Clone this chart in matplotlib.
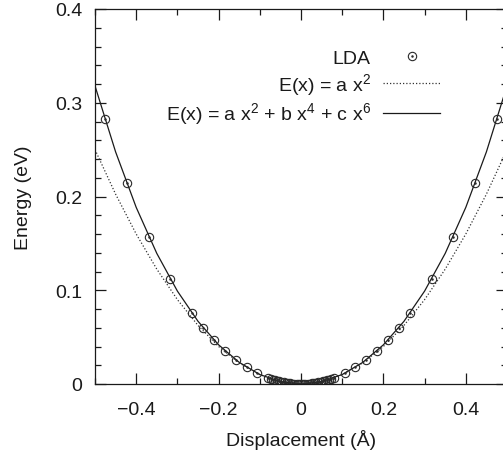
import matplotlib
matplotlib.use('Agg')
import matplotlib.pyplot as plt
from matplotlib.legend_handler import HandlerTuple
from matplotlib.ticker import MultipleLocator, FixedLocator, FixedFormatter

plt.rcParams['font.family'] = ['Liberation Sans', 'DejaVu Sans']
plt.rcParams['mathtext.fontset'] = 'custom'
plt.rcParams['mathtext.rm'] = 'Liberation Sans'
plt.rcParams['mathtext.it'] = 'Liberation Sans:italic'
plt.rcParams['mathtext.bf'] = 'Liberation Sans:bold'

# LDA data points
lda_x = [-0.4757, -0.4229, -0.3700, -0.3172, -0.2643, -0.2379, -0.2114, -0.1850,
         -0.1586, -0.1322, -0.1057,
         -0.0793, -0.0740, -0.0687, -0.0634, -0.0581, -0.0529, -0.0476, -0.0423,
         -0.0370, -0.0317, -0.0264, -0.0211, -0.0159, -0.0106, -0.0053, 0.0,
         0.0053, 0.0106, 0.0159, 0.0211, 0.0264, 0.0317, 0.0370, 0.0423, 0.0476,
         0.0529, 0.0581, 0.0634, 0.0687, 0.0740, 0.0793,
         0.1057, 0.1322, 0.1586, 0.1850, 0.2114, 0.2379, 0.2643, 0.3172, 0.3700,
         0.4229, 0.4757]
lda_y = [0.2827, 0.2144, 0.1572, 0.1118, 0.0754, 0.0600, 0.0465, 0.0352,
         0.0257, 0.0179, 0.0113,
         0.00633, 0.00551, 0.00475, 0.00404, 0.00339, 0.00280, 0.00227, 0.00179,
         0.00137, 0.00101, 0.00070, 0.00045, 0.00025, 0.00011, 0.00003, 0.0,
         0.00003, 0.00011, 0.00025, 0.00045, 0.00070, 0.00101, 0.00137, 0.00179,
         0.00227, 0.00280, 0.00339, 0.00404, 0.00475, 0.00551, 0.00633,
         0.0113, 0.0179, 0.0257, 0.0352, 0.0465, 0.0600, 0.0754, 0.1118, 0.1572,
         0.2144, 0.2827]

# fitted curves, values
curve_x = [-0.50, -0.45, -0.40, -0.35, -0.30, -0.25, -0.20, -0.15, -0.10, -0.05, 0.0,
           0.05, 0.10, 0.15, 0.20, 0.25, 0.30, 0.35, 0.40, 0.45, 0.50]
harm_y = [0.2500, 0.2025, 0.1600, 0.1225, 0.0900, 0.0625, 0.0400, 0.0225, 0.0100, 0.0025, 0.0,
          0.0025, 0.0100, 0.0225, 0.0400, 0.0625, 0.0900, 0.1225, 0.1600, 0.2025, 0.2500]
anh_y = [0.3180, 0.2476, 0.1884, 0.1393, 0.0991, 0.0669, 0.0418, 0.0231, 0.0101, 0.0025, 0.0,
         0.0025, 0.0101, 0.0231, 0.0418, 0.0669, 0.0991, 0.1393, 0.1884, 0.2476, 0.3180]

xticks = [-0.4, -0.2, 0.0, 0.2, 0.4]
xticklabels = ['\u22120.4', '\u22120.2', '0', '0.2', '0.4']
yticks = [0.0, 0.1, 0.2, 0.3, 0.4]
yticklabels = ['0', '0.1', '0.2', '0.3', '0.4']
labels = ['LDA', 'E(x) = a x$^2$', 'E(x) = a x$^2$ + b x$^4$ + c x$^6$']

ink = '#1a1a1a'
W, H = 503, 456
fig = plt.figure(figsize=(W / 100, H / 100), dpi=100)
ax = fig.add_axes([95 / W, 1 - 385 / H, 412 / W, 375 / H])

l_harm, = ax.plot(curve_x, harm_y, color='#333333', lw=0.9, ls=(0, (1.0, 1.6)))
l_anh, = ax.plot(curve_x, anh_y, color=ink, lw=0.9)
p_circ, = ax.plot(lda_x, lda_y, ls='none', marker='o', ms=6, mfc='none',
                  mec='#2a2a2a', mew=0.8)
p_dot, = ax.plot(lda_x, lda_y, ls='none', marker='.', ms=1.6, color='#2a2a2a')

ax.set_xlim(-0.5, 0.5)
ax.set_ylim(0, 0.4)
ax.xaxis.set_major_locator(FixedLocator(xticks))
ax.xaxis.set_major_formatter(FixedFormatter(xticklabels))
ax.xaxis.set_minor_locator(MultipleLocator(0.1))
ax.yaxis.set_major_locator(FixedLocator(yticks))
ax.yaxis.set_major_formatter(FixedFormatter(yticklabels))
ax.yaxis.set_minor_locator(MultipleLocator(0.02))

ax.tick_params(which='both', direction='in', top=True, right=True, color=ink,
               width=0.9, labelcolor=ink, labelsize=14)
ax.tick_params(which='major', length=8)
ax.tick_params(which='minor', length=4)
ax.tick_params(axis='x', pad=12)
ax.tick_params(axis='y', pad=9)
for s in ax.spines.values():
    s.set_linewidth(0.9)
    s.set_color(ink)

ax.set_xlabel('Displacement (\u00c5)', fontsize=14, color=ink, labelpad=8)
ax.set_ylabel('Energy (eV)', fontsize=14, color=ink, labelpad=17)

leg = ax.legend([(p_circ, p_dot), l_harm, l_anh], labels,
                handler_map={tuple: HandlerTuple(ndivide=1, pad=0)},
                loc='upper right', bbox_to_anchor=(0.837, 0.893),
                frameon=False, markerfirst=False, fontsize=14,
                handlelength=2.9, handletextpad=0.65, labelspacing=0.2,
                borderpad=0, borderaxespad=0)
for t in leg.get_texts():
    t.set_color(ink)

fig.savefig('out.png', dpi=100)
